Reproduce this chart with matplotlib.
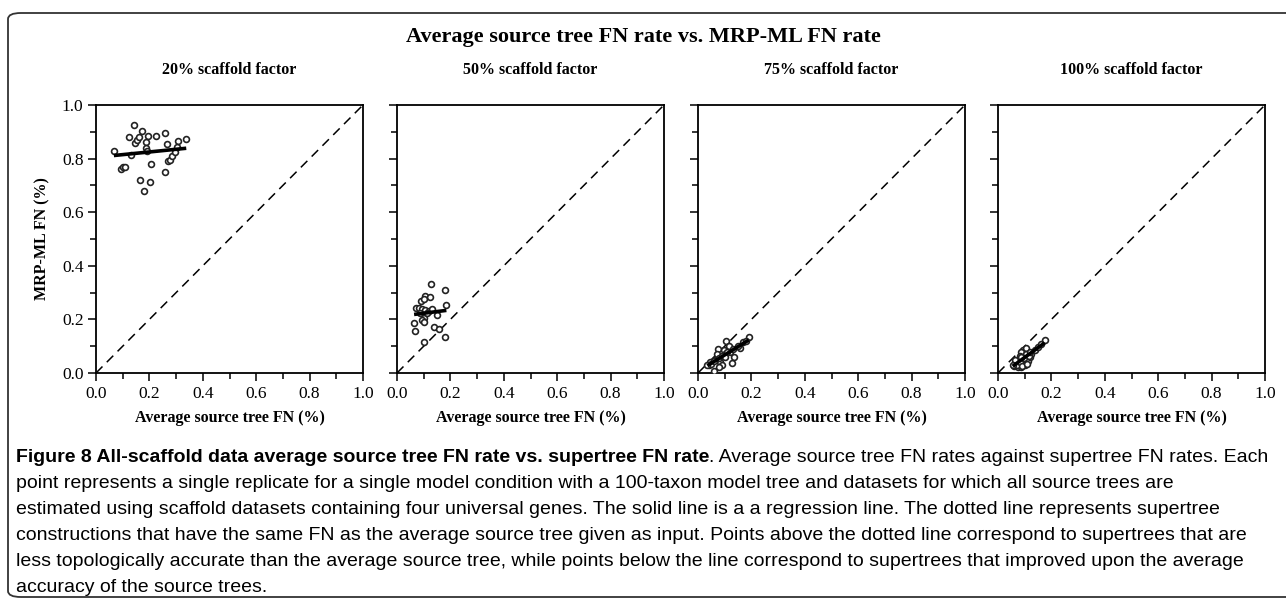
import numpy as np
import matplotlib
matplotlib.use("Agg")
import matplotlib.pyplot as plt
from matplotlib.patches import FancyBboxPatch

# ---- data ----
panel_titles = ["20% scaffold factor", "50% scaffold factor",
                "75% scaffold factor", "100% scaffold factor"]

src_fn_20 = [0.067, 0.141, 0.125, 0.172, 0.147, 0.155, 0.162, 0.195, 0.187, 0.224,
             0.257, 0.267, 0.308, 0.338, 0.187, 0.130, 0.094, 0.100, 0.110, 0.206,
             0.271, 0.277, 0.286, 0.295, 0.302, 0.257, 0.165, 0.202, 0.181, 0.190]
mrp_fn_20 = [0.827, 0.924, 0.879, 0.902, 0.857, 0.869, 0.882, 0.884, 0.863, 0.884,
             0.897, 0.854, 0.867, 0.872, 0.838, 0.812, 0.762, 0.767, 0.770, 0.780,
             0.790, 0.795, 0.809, 0.826, 0.842, 0.751, 0.722, 0.712, 0.679, 0.828]

src_fn_50 = [0.126, 0.179, 0.106, 0.122, 0.091, 0.100, 0.185, 0.072, 0.081, 0.094,
             0.104, 0.119, 0.150, 0.087, 0.100, 0.094, 0.102, 0.064, 0.069, 0.137,
             0.156, 0.181, 0.101, 0.112, 0.130]
mrp_fn_50 = [0.331, 0.311, 0.286, 0.283, 0.268, 0.277, 0.252, 0.242, 0.241, 0.238,
             0.236, 0.233, 0.217, 0.223, 0.206, 0.196, 0.190, 0.186, 0.155, 0.171,
             0.164, 0.136, 0.114, 0.225, 0.240]

src_fn_75 = [0.190, 0.106, 0.074, 0.096, 0.115, 0.156, 0.102, 0.121, 0.136, 0.127,
             0.084, 0.090, 0.077, 0.061, 0.040, 0.046, 0.065, 0.084, 0.071, 0.050,
             0.060, 0.080, 0.090, 0.110, 0.130, 0.150, 0.170, 0.180, 0.035, 0.100]
mrp_fn_75 = [0.134, 0.121, 0.091, 0.086, 0.102, 0.094, 0.071, 0.077, 0.061, 0.037,
             0.040, 0.031, 0.021, 0.009, 0.031, 0.040, 0.049, 0.059, 0.071, 0.035,
             0.045, 0.055, 0.065, 0.080, 0.090, 0.100, 0.115, 0.120, 0.028, 0.060]

src_fn_100 = [0.094, 0.106, 0.087, 0.081, 0.069, 0.060, 0.075, 0.087, 0.100, 0.112,
              0.118, 0.062, 0.077, 0.094, 0.106, 0.125, 0.137, 0.150, 0.162, 0.175,
              0.070, 0.082, 0.090, 0.098, 0.108, 0.115, 0.065, 0.055, 0.085, 0.120]
mrp_fn_100 = [0.087, 0.092, 0.077, 0.065, 0.042, 0.027, 0.021, 0.021, 0.030, 0.046,
              0.059, 0.037, 0.034, 0.052, 0.071, 0.071, 0.084, 0.096, 0.109, 0.125,
              0.030, 0.040, 0.025, 0.055, 0.035, 0.065, 0.050, 0.030, 0.060, 0.080]

panels = [(src_fn_20, mrp_fn_20), (src_fn_50, mrp_fn_50),
          (src_fn_75, mrp_fn_75), (src_fn_100, mrp_fn_100)]

ticks = [0.0, 0.2, 0.4, 0.6, 0.8, 1.0]

caption_bold = "Figure 8 All-scaffold data average source tree FN rate vs. supertree FN rate"
caption_lines = [
    ". Average source tree FN rates against supertree FN rates. Each",
    "point represents a single replicate for a single model condition with a 100-taxon model tree and datasets for which all source trees are",
    "estimated using scaffold datasets containing four universal genes. The solid line is a a regression line. The dotted line represents supertree",
    "constructions that have the same FN as the average source tree given as input. Points above the dotted line correspond to supertrees that are",
    "less topologically accurate than the average source tree, while points below the line correspond to supertrees that improved upon the average",
    "accuracy of the source trees.",
]

serif = ["Liberation Serif", "DejaVu Serif"]
sans = ["Liberation Sans", "DejaVu Sans"]

W, H = 1286, 603
fig = plt.figure(figsize=(W / 100, H / 100), dpi=100)

# frame round the whole figure
fig.patches.append(FancyBboxPatch((8 / W, 6 / H), 1.2, (597 - 13) / H,
                                  boxstyle="round,pad=0,rounding_size=0.01",
                                  transform=fig.transFigure, fill=False,
                                  ec="#333333", lw=1.3))

fig.text(643 / W, 1 - 37 / H, "Average source tree FN rate vs. MRP-ML FN rate",
         family=serif, weight="bold", fontsize=16, ha="center", va="center")

lefts = [96, 397, 698, 998]
for i, (xs, ys) in enumerate(panels):
    ax = fig.add_axes([lefts[i] / W, (H - 373) / H, 267 / W, 268 / H])
    xs = np.asarray(xs)
    ys = np.asarray(ys)
    ax.plot([0, 1], [0, 1], ls=(0, (6, 4)), color="black", lw=1.1)
    ax.plot(xs, ys, "o", ms=4.2, mfc="white", mec="#222222", mew=1.2, zorder=3)
    # regression line
    k, b = np.polyfit(xs, ys, 1)
    xr = np.array([xs.min(), xs.max()])
    ax.plot(xr, k * xr + b, color="black", lw=2.6, zorder=4, solid_capstyle="butt")

    ax.set_xlim(0, 1)
    ax.set_ylim(0, 1)
    ax.set_xticks(ticks)
    ax.set_yticks(ticks)
    ax.set_xticks(np.arange(0.1, 1.0, 0.2), minor=True)
    ax.set_yticks(np.arange(0.1, 1.0, 0.2), minor=True)
    ax.set_xticklabels([f"{t:.1f}" for t in ticks], family=serif, fontsize=12.5)
    if i == 0:
        ax.set_yticklabels([f"{t:.1f}" for t in ticks], family=serif, fontsize=12.5)
    else:
        ax.set_yticklabels([])
    ax.tick_params(which="major", direction="out", length=6, width=1.1, pad=3)
    ax.tick_params(which="minor", direction="out", length=4, width=1.1)
    for s in ax.spines.values():
        s.set_linewidth(1.3)
    ax.set_xlabel("Average source tree FN (%)", family=serif, weight="bold",
                  fontsize=11.5, labelpad=6)
    if i == 0:
        ax.set_ylabel("MRP-ML FN (%)", family=serif, weight="bold",
                      fontsize=11.5, labelpad=8)
    fig.text((lefts[i] + 133) / W, 1 - 70 / H, panel_titles[i], family=serif,
             weight="bold", fontsize=11.5, ha="center", va="center")

# caption
fs = 14
y0 = 458
t = fig.text(16 / W, 1 - y0 / H, caption_bold, family=sans, weight="bold",
             fontsize=fs, va="center", ha="left")
fig.canvas.draw()
bb = t.get_window_extent()
fig.text(bb.x1 / W, 1 - y0 / H, caption_lines[0], family=sans,
         fontsize=fs, va="center", ha="left")
for j, line in enumerate(caption_lines[1:], start=1):
    fig.text(16 / W, 1 - (y0 + 26 * j) / H, line, family=sans,
             fontsize=fs, va="center", ha="left")

fig.savefig("out.png", dpi=100)
